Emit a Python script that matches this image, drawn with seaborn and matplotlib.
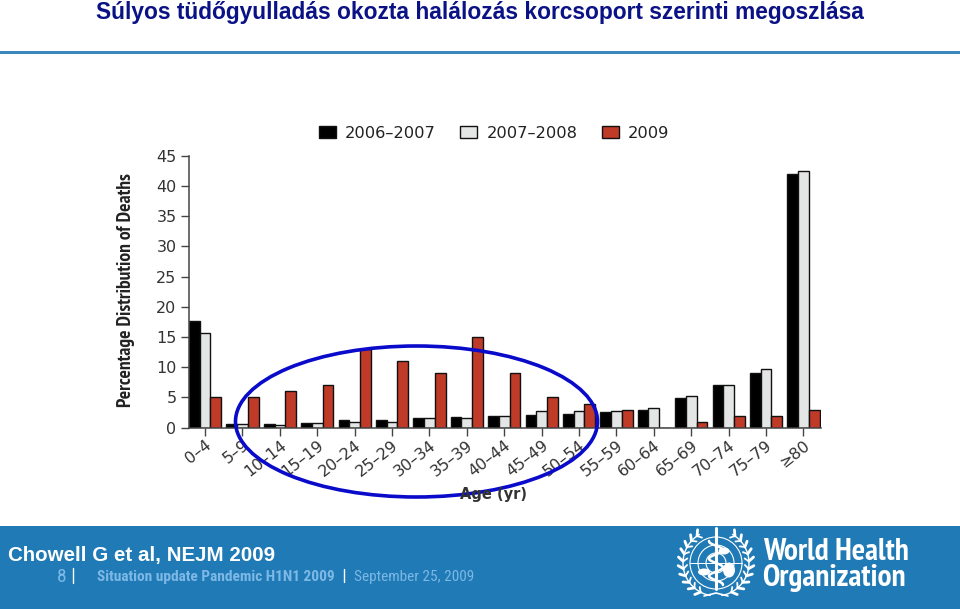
import numpy as np
import pandas as pd
import matplotlib
matplotlib.use("Agg")
import matplotlib.pyplot as plt
from matplotlib.patches import Ellipse, Rectangle, Circle
import seaborn as sns
import logging
logging.getLogger("matplotlib.font_manager").setLevel(logging.ERROR)

age_groups = ["0–4", "5–9", "10–14", "15–19", "20–24", "25–29", "30–34", "35–39", "40–44",
              "45–49", "50–54", "55–59", "60–64", "65–69", "70–74", "75–79", "≥80"]
season_0607 = [17.6, 0.6, 0.6, 0.8, 1.3, 1.3, 1.6, 1.8, 1.9, 2.1, 2.3, 2.6, 3.0, 4.9, 7.0, 9.0, 41.9]
season_0708 = [15.7, 0.6, 0.4, 0.8, 1.0, 1.0, 1.6, 1.6, 1.9, 2.7, 2.7, 2.7, 3.3, 5.2, 7.0, 9.7, 42.4]
season_2009 = [5, 5, 6, 7, 13, 11, 9, 15, 9, 5, 4, 3, 0, 1, 2, 2, 3]
series_names = ["2006–2007", "2007–2008", "2009"]
series_colors = ["#000000", "#e4e6e6", "#c03a28"]

W, H = 960, 609
BLUE = "#1f7ab5"
LIGHT = "#7db8e6"

sns.set_theme(style="white")
plt.rcParams["font.family"] = ["DejaVu Sans"]
fig = plt.figure(figsize=(W / 100, H / 100), dpi=100, facecolor="white")

bg = fig.add_axes([0, 0, 1, 1], zorder=0)
bg.set_xlim(0, W); bg.set_ylim(H, 0); bg.axis("off")
bg.add_patch(Rectangle((0, 526), W, 83, fc=BLUE, ec="none"))
bg.add_patch(Rectangle((0, 51), W, 3, fc="#3a86bd", ec="none"))

left, right, top, bottom = 189, 821, 155.7, 427.7
ax = fig.add_axes([left / W, 1 - bottom / H, (right - left) / W, (bottom - top) / H], zorder=1)
ax.patch.set_alpha(0)
df = pd.DataFrame({
    "age": age_groups * 3,
    "value": season_0607 + season_0708 + season_2009,
    "season": sum([[n] * len(age_groups) for n in series_names], []),
})
sns.barplot(data=df, x="age", y="value", hue="season", order=age_groups, hue_order=series_names,
            palette=series_colors, width=0.86, gap=0.0, saturation=1, edgecolor="#111111",
            linewidth=1.0, ax=ax, errorbar=None)
ax.set_xlim(-0.43, 16.47)
ax.set_ylim(0, 45)
ax.set_yticks(range(0, 50, 5))
for s in ("top", "right"):
    ax.spines[s].set_visible(False)
for s in ("left", "bottom"):
    ax.spines[s].set_color("#444444"); ax.spines[s].set_linewidth(1.1)
ax.tick_params(axis="both", bottom=True, left=True, length=6, width=1.0, color="#444444",
               labelcolor="#333333", labelsize=11.5, pad=3)
ax.tick_params(axis="x", pad=1)
for lab in ax.get_xticklabels():
    lab.set_rotation(38); lab.set_ha("right"); lab.set_rotation_mode("anchor")
ax.set_xlabel(""); ax.set_ylabel("")
handles, labels = ax.get_legend_handles_labels()
ax.legend(handles, labels, ncol=3, frameon=False, loc="center left",
          bbox_to_anchor=(319 / W, 1 - 133 / H), bbox_transform=fig.transFigure,
          fontsize=11.7, labelcolor="#222222", handlelength=1.05, handleheight=0.8,
          handletextpad=0.55, columnspacing=1.5, borderpad=0, borderaxespad=0)

fig.text(126 / W, 1 - 290 / H, "Percentage Distribution of Deaths", rotation=90, ha="center", va="center",
         fontsize=14, fontweight="bold", color="#222222",
         family=["PT Sans Narrow", "Roboto", "DejaVu Sans"])
fig.text(493 / W, 1 - 495 / H, "Age (yr)", ha="center", va="center", fontsize=10.5,
         fontweight="bold", color="#333333")

fg = fig.add_axes([0, 0, 1, 1], zorder=2)
fg.set_xlim(0, W); fg.set_ylim(H, 0); fg.axis("off"); fg.patch.set_alpha(0)
fg.add_patch(Ellipse((416.5, 421.5), 362, 151, fc="none", ec="#0a0acb", lw=2.6))

sans = ["Liberation Sans", "DejaVu Sans"]
narrow = ["Roboto Condensed", "Archivo Narrow", "Roboto", "DejaVu Sans"]
who = ["PT Sans Narrow", "Roboto Condensed", "Roboto", "DejaVu Sans"]
fg.text(480, 13, "Súlyos tüdőgyulladás okozta halálozás korcsoport szerinti megoszlása", ha="center",
        va="center", fontsize=16.4, fontweight="bold", color="#0a1285", family=sans)
fg.text(8, 555, "Chowell G et al, NEJM 2009", ha="left", va="center", fontsize=14.8,
        fontweight="bold", color="white", family=sans)
fg.text(62, 576.5, "8", ha="center", va="center", fontsize=14, color=LIGHT, family=narrow)
fg.plot([73, 73], [568, 583], color="white", lw=1)
fg.text(97, 577, "Situation update Pandemic H1N1 2009", ha="left", va="center", fontsize=11.1,
        fontweight="bold", color=LIGHT, family=narrow)
fg.plot([344, 344], [569, 582], color="white", lw=1)
fg.text(354, 577, "September 25, 2009", ha="left", va="center", fontsize=11.0, color=LIGHT, family=narrow)

# WHO emblem
cx, cy = 716, 563
for r in (26, 18, 10):
    fg.add_patch(Circle((cx, cy), r, fc="none", ec="white", lw=0.8))
fg.plot([cx - 26, cx + 26], [cy, cy], color="white", lw=0.7)
fg.plot([cx, cx], [cy - 26, cy + 26], color="white", lw=0.7)
for e in [(-12, 9, 12, 7), (13, 7, 12, 15), (8, -12, 11, 7)]:
    fg.add_patch(Ellipse((cx + e[0], cy + e[1]), e[2], e[3], fc="white", ec="none"))
fg.plot([cx, cx], [cy - 35, cy + 26], color="white", lw=2.2, solid_capstyle="round")
t = np.linspace(-1, 1, 60)
fg.plot(cx + 7 * np.sin(t * 8), cy + t * 22, color="white", lw=1.8)
for side in (-1, 1):
    for a in np.arange(-55, 75, 13):
        ang = np.deg2rad(a)
        x0, y0 = cx + side * 33 * np.cos(ang), cy + 33 * np.sin(ang)
        x1, y1 = cx + side * 38 * np.cos(ang - np.deg2rad(6)), cy + 38 * np.sin(ang - np.deg2rad(6))
        fg.plot([x0, x1], [y0, y1], color="white", lw=2.0)
        x2, y2 = cx + side * 29 * np.cos(ang - np.deg2rad(6)), cy + 29 * np.sin(ang - np.deg2rad(6))
        fg.plot([x0, x2], [y0, y2], color="white", lw=1.3)
    th = np.deg2rad(np.linspace(-60, 80, 30))
    fg.plot(cx + side * 33 * np.cos(th), cy + 33 * np.sin(th), color="white", lw=1)
fg.plot([cx - 12, cx, cx + 12], [cy + 33, cy + 30, cy + 33], color="white", lw=1.2)
fg.text(763, 552.5, "World Health", ha="left", va="center", fontsize=22.5, fontweight="bold",
        color="white", family=who)
fg.text(762, 578, "Organization", ha="left", va="center", fontsize=22.5, fontweight="bold",
        color="white", family=who)

fig.savefig("out.png", dpi=100)
